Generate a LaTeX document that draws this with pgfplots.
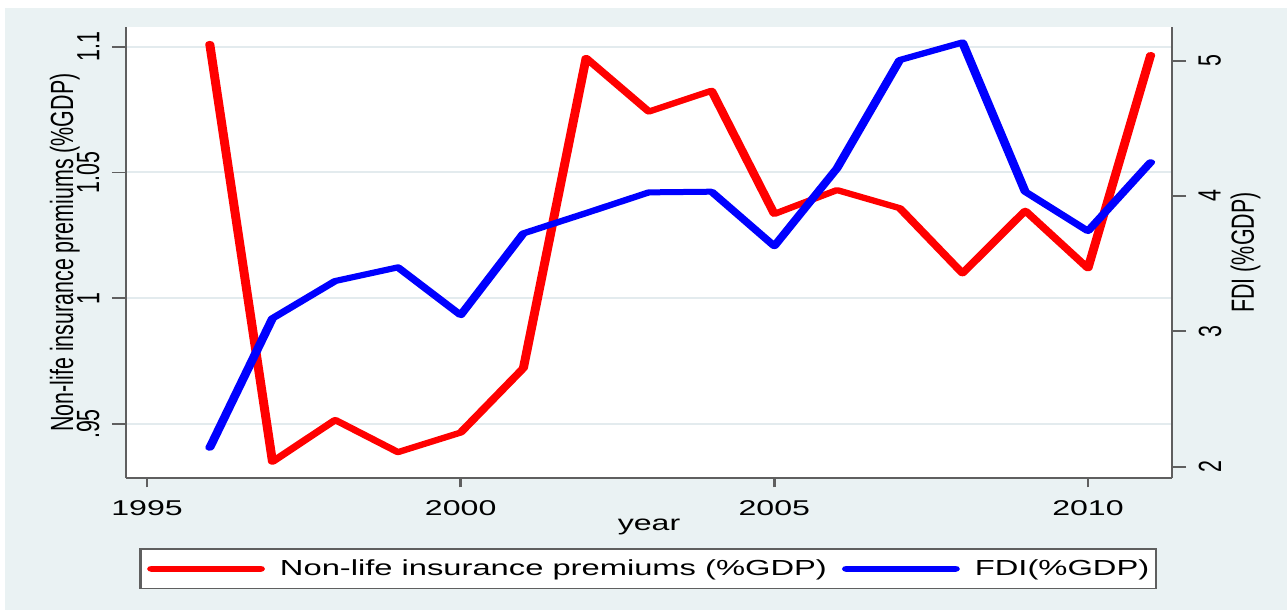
\documentclass[border=0pt]{standalone}
\usepackage{pgfplots}
\pgfplotsset{compat=1.18}
\usepackage{fontspec}
\setmainfont{Liberation Sans}
\definecolor{bgc}{HTML}{EAF2F3}
\definecolor{gridc}{HTML}{E3EBEE}
\definecolor{axc}{HTML}{5F5F5F}
\definecolor{rd}{HTML}{FF0000}
\definecolor{bl}{HTML}{0000FF}
\newcommand{\fs}{\fontsize{10.7}{12.8}\selectfont}
\newcommand{\fsl}{\fontsize{10.9}{13}\selectfont}

\pgfplotstableread{
year val
1996 1.1011
1997 0.9350
1998 0.9516
1999 0.9388
2000 0.9466
2001 0.9722
2002 1.0955
2003 1.0742
2004 1.0825
2005 1.0335
2006 1.0430
2007 1.0358
2008 1.0099
2009 1.0348
2010 1.0119
2011 1.0967
}\insurance

\pgfplotstableread{
year val
1996 2.14
1997 3.096
1998 3.372
1999 3.473
2000 3.120
2001 3.724
2002 3.874
2003 4.027
2004 4.032
2005 3.630
2006 4.205
2007 5.005
2008 5.135
2009 4.032
2010 3.741
2011 4.25
}\fdi

\begin{document}
\begin{tikzpicture}
\path[use as bounding box] (0,0) rectangle (643.5pt,305pt);
\fill[white] (0,0) rectangle (643.5pt,305pt);
\fill[bgc] (2.5pt,0) rectangle (643.5pt,301pt);
\begin{scope}[transform canvas={xscale=1.5}]
\begin{axis}[
  at={(42pt,66pt)}, anchor=south west,
  width=348.67pt, height=225.5pt, scale only axis,
  xmin=1994.665, xmax=2011.34,
  ymin=0.92853, ymax=1.10783,
  axis x line*=bottom, axis y line*=left,
  axis line style={axc, line width=0.9pt},
  axis background/.style={fill=white},
  xtick={1995,2000,2005,2010},
  xticklabels={1995,2000,2005,2010},
  ytick={0.95,1,1.05,1.1},
  yticklabels={.95,1,1.05,1.1},
  tick align=outside,
  major tick length=4.7pt,
  tick style={axc, line width=0.9pt},
  ymajorgrids,
  major grid style={gridc, line width=1pt},
  /pgf/number format/assume math mode=true,
  ticklabel style={font=\fs},
  xticklabel style={anchor=north, inner sep=0pt},
  yticklabel style={rotate=90, anchor=south, inner sep=0pt},
  xticklabel shift=6.6pt,
  yticklabel shift=3.97pt,
  xlabel={year},
  ylabel={Non-life insurance premiums (\%GDP)},
  every axis x label/.style={at={(axis description cs:0.5,-0.1160)}, anchor=base, font=\fs, inner sep=0pt},
  every axis y label/.style={at={(axis description cs:-0.0734,0.5)}, rotate=90, anchor=north, font=\fs, inner sep=0pt},
]
\addplot[rd, line width=3pt, line join=round, line cap=round] table[x=year, y=val] {\insurance};
\end{axis}
\begin{axis}[
  at={(42pt,66pt)}, anchor=south west,
  width=348.67pt, height=225.5pt, scale only axis,
  xmin=1994.665, xmax=2011.34,
  ymin=1.9165, ymax=5.249,
  axis x line=none, axis y line*=right,
  axis line style={axc, line width=0.9pt},
  ytick={2,3,4,5},
  yticklabels={2,3,4,5},
  tick align=outside,
  major tick length=4.7pt,
  tick style={axc, line width=0.9pt},
  /pgf/number format/assume math mode=true,
  ticklabel style={font=\fs},
  yticklabel style={rotate=90, anchor=north, inner sep=0pt},
  yticklabel shift=3.97pt,
  ylabel={FDI (\%GDP)},
  every axis y label/.style={at={(axis description cs:1.0555,0.5)}, rotate=90, anchor=north, font=\fs, inner sep=0pt},
  legend columns=2,
  legend cell align=left,
  legend image code/.code={\draw[#1, line cap=round] (0pt,0pt) -- (36.3pt,0pt);},
  legend style={at={(axis description cs:0.4992,-0.201)}, anchor=center,
    draw=axc, line width=0.8pt, fill=white, font=\fsl,
    inner xsep=2.2pt, inner ysep=5.2pt,
    nodes={inner sep=0pt}, column sep=5pt},
]
\addlegendimage{rd, line width=3pt}
\addlegendentry{Non-life insurance premiums (\%GDP)}
\addplot[bl, line width=3pt, line join=round, line cap=round] table[x=year, y=val] {\fdi};
\addlegendentry{FDI(\%GDP)}
\end{axis}
\end{scope}
\end{tikzpicture}
\end{document}
